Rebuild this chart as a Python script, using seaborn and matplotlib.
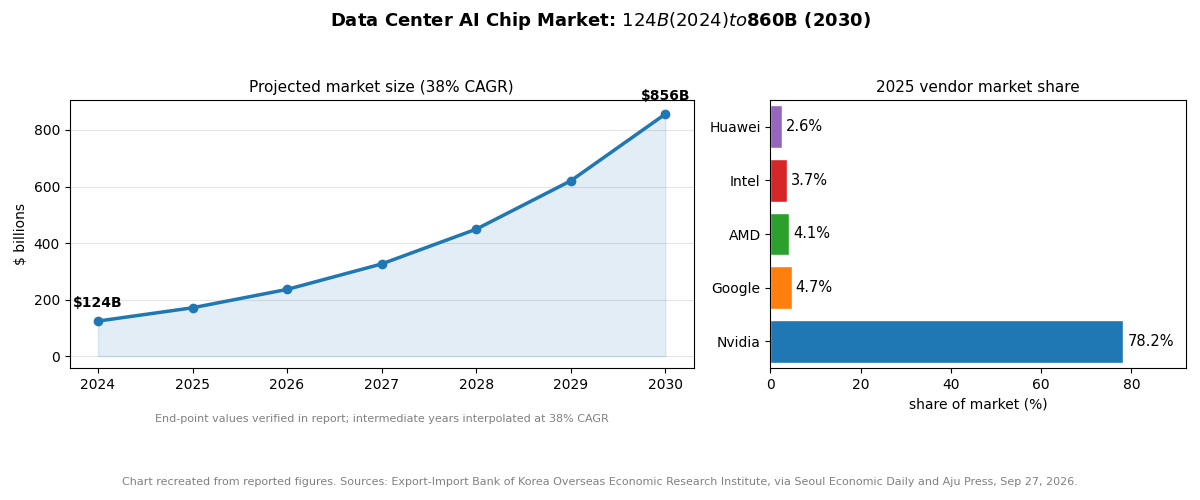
import matplotlib
matplotlib.use("Agg")
import matplotlib.pyplot as plt
import seaborn as sns
import pandas as pd

years = [2024, 2025, 2026, 2027, 2028, 2029, 2030]
market = [124, 171, 236, 326, 449, 620, 856]

vendors = ["Nvidia", "Google", "AMD", "Intel", "Huawei"]
share = [78.2, 4.7, 4.1, 3.7, 2.6]
vendor_colors = ["#1f77b4", "#ff7f0e", "#2ca02c", "#d62728", "#9467bd"]

sns.set_style("ticks", {"text.color": "black", "axes.labelcolor": "black",
                        "xtick.color": "black", "ytick.color": "black",
                        "axes.edgecolor": "black"})
plt.rcParams["font.family"] = ["DejaVu Sans"]

fig = plt.figure(figsize=(12, 5), dpi=100)
ax1 = fig.add_axes([0.058, 0.264, 0.52, 0.536])
ax2 = fig.add_axes([0.642, 0.264, 0.346, 0.536])

# left: projected market size
df = pd.DataFrame({"year": years, "value": market})
ax1.fill_between(years, market, color="#1f77b4", alpha=0.13)
sns.lineplot(data=df, x="year", y="value", ax=ax1, color="#1f77b4", lw=2.5,
             marker="o", markersize=7, markeredgewidth=0)
ax1.set_title("Projected market size (38% CAGR)", fontsize=11)
ax1.set_xlabel("")
ax1.set_ylabel("$ billions")
ax1.set_ylim(-42, 906)
ax1.set_xticks(years)
ax1.yaxis.grid(True, color="#e5e5e5")
ax1.annotate(f"${market[0]}B", (years[0], market[0]), xytext=(0, 10),
             textcoords="offset points", ha="center", fontweight="bold")
ax1.annotate(f"${market[-1]}B", (years[-1], market[-1]), xytext=(0, 10),
             textcoords="offset points", ha="center", fontweight="bold")
ax1.text(0.5, -0.2, "End-point values verified in report; intermediate years interpolated at 38% CAGR",
         transform=ax1.transAxes, ha="center", fontsize=8, color="gray")

# right: vendor share (Nvidia at bottom)
sdf = pd.DataFrame({"vendor": vendors, "share": share})
sns.barplot(data=sdf, x="share", y="vendor", hue="vendor", palette=vendor_colors,
            ax=ax2, legend=False, saturation=1, width=0.8, order=vendors)
ax2.invert_yaxis()
for cont in ax2.containers:
    ax2.bar_label(cont, fmt="%.1f%%", padding=3, fontsize=10.5)
ax2.set_xlim(0, 92)
ax2.set_title("2025 vendor market share", fontsize=11)
ax2.set_xlabel("share of market (%)")
ax2.set_ylabel("")

fig.suptitle("Data Center AI Chip Market: $124B (2024) to $860B (2030)",
             fontweight="bold", fontsize=13, y=0.98)
fig.text(0.5, 0.03, "Chart recreated from reported figures. Sources: Export-Import Bank of Korea Overseas Economic Research Institute, via Seoul Economic Daily and Aju Press, Sep 27, 2026.",
         ha="center", fontsize=8, color="gray")
fig.savefig("out.png", dpi=100)
